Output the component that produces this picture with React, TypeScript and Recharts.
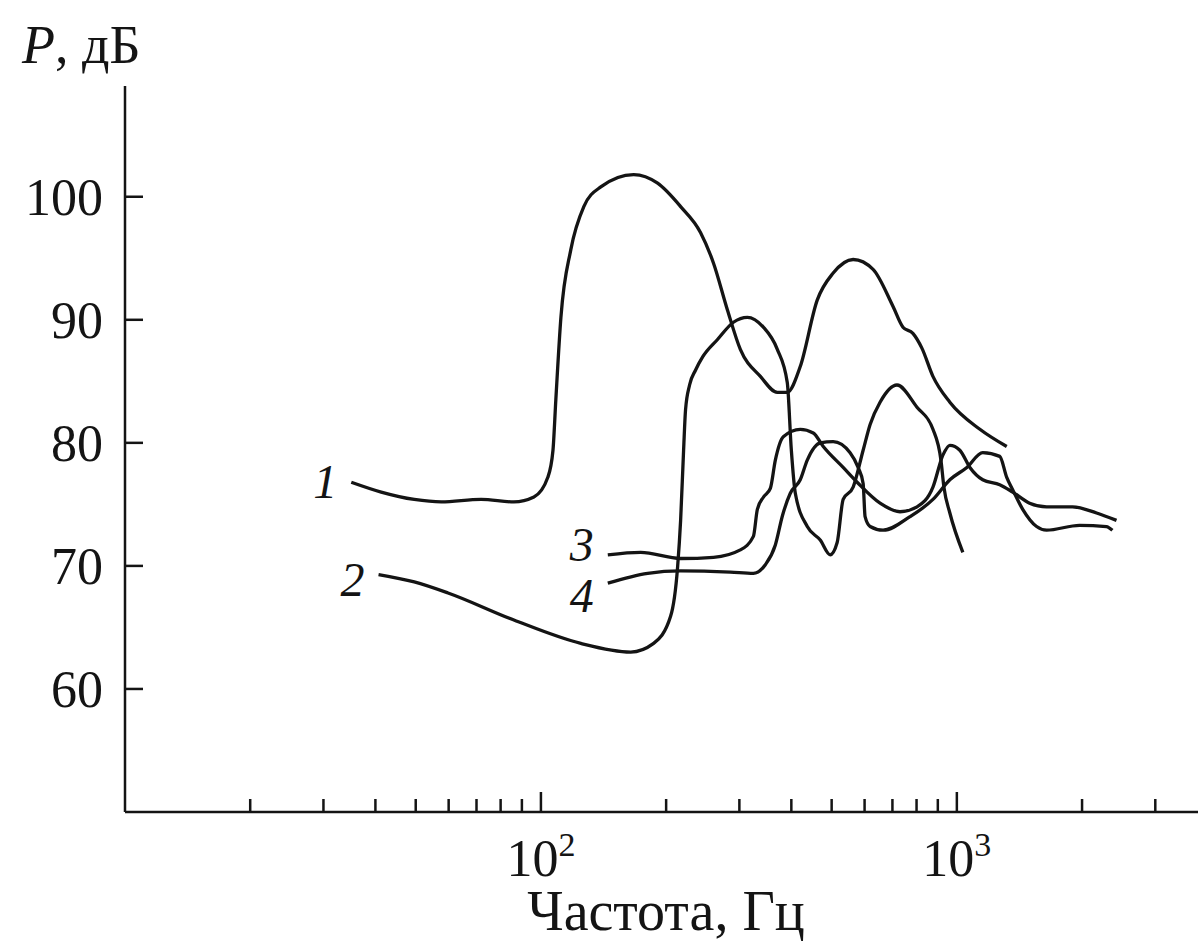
import { LineChart, Line, XAxis, YAxis } from "recharts";

const FONT = "'Liberation Serif', 'DejaVu Serif', serif";
const INK = "#141414";

// curve 1
const c1Freq = [35, 41.3, 49.6, 57.6, 71.8, 86.1, 96.2, 103.9, 106.9, 108.6, 111.7, 118, 126.8, 139.3, 167.1, 190.8, 216.7, 241.9, 260, 280.8, 301.6, 337, 370.1, 391.1, 420.2, 461.6, 504.3, 563.2, 628.9, 702, 742, 784, 824, 876, 962, 1136, 1318];
const c1Level = [76.8, 76.0, 75.4, 75.2, 75.4, 75.2, 75.6, 77.2, 79.4, 83.5, 90.2, 95.7, 99.2, 100.8, 101.8, 101.1, 99.2, 97.1, 94.6, 90.8, 87.6, 85.4, 84.1, 84.1, 86.2, 91.6, 93.8, 94.9, 94.1, 91.1, 89.4, 88.9, 87.7, 85.4, 83.3, 81.1, 79.7];

// curve 2
const c2Freq = [40.7, 49.6, 59.8, 86.1, 124.7, 164.4, 186.6, 205, 213.1, 216.7, 220.3, 222.7, 227.7, 235.3, 245, 265.8, 290.3, 313.6, 342.6, 370.1, 391.1, 400, 408.9, 436.9, 469.4, 495.9, 515.5, 532.9, 563.2, 595.2, 618.7, 653.7, 717.9, 802, 876, 915.6, 930.9, 962, 1033.7];
const c2Level = [69.3, 68.7, 67.8, 65.6, 63.7, 63.0, 63.7, 65.9, 69.9, 73.7, 79.4, 82.7, 84.7, 85.9, 87.0, 88.4, 89.8, 90.2, 89.4, 87.6, 84.9, 79.4, 75.9, 73.2, 72.1, 70.9, 71.9, 75.4, 76.4, 79.4, 81.5, 83.3, 84.7, 82.9, 81.1, 78.6, 76.4, 74.3, 71.1];

// curve 3
const c3Freq = [144.8, 173.7, 216.7, 260, 301.6, 324.2, 331.4, 343, 356.1, 366.1, 382.6, 420.2, 451.6, 477.3, 532.9, 575.8, 653.7, 730, 802, 876, 925.6, 962, 1016.7, 1075, 1154, 1268, 1362, 1496, 1644, 1897, 2167, 2420];
const c3Level = [70.9, 71.1, 70.6, 70.7, 71.3, 72.4, 74.6, 75.6, 76.3, 78.6, 80.5, 81.1, 80.8, 79.7, 78.0, 76.8, 75.1, 74.4, 74.8, 76.4, 79.0, 79.8, 79.4, 78.0, 77.0, 76.6, 76.0, 75.1, 74.8, 74.8, 74.3, 73.7];

// curve 4
const c4Freq = [144.8, 180.6, 216.7, 285.5, 324.2, 346.4, 366.1, 380.9, 397.7, 420.2, 436.9, 469.4, 504.3, 553.8, 578.9, 595.2, 601.7, 618.7, 664.6, 771.6, 876, 962, 1057, 1154, 1268, 1318, 1362, 1440, 1555, 1644, 1972, 2289, 2366];
const c4Level = [68.6, 69.4, 69.6, 69.5, 69.4, 70.1, 71.7, 74.1, 75.9, 77.0, 78.6, 80.0, 80.1, 79.2, 78.0, 76.7, 74.0, 73.2, 72.9, 74.0, 75.4, 77.0, 78.0, 79.2, 78.9, 77.2, 76.2, 74.6, 73.2, 72.9, 73.3, 73.2, 72.9];

const xTicks = [20, 30, 40, 50, 60, 70, 80, 90, 100, 200, 300, 400, 500, 600, 700, 800, 900, 1000, 2000, 3000];
const xMajor: Record<number, string> = { 100: "2", 1000: "3" };
const yTicks = [60, 70, 80, 90, 100];

const zip = (f: number[], p: number[]) => f.map((v, i) => ({ f: v, p: p[i] }));

const curves = [
  { id: "1", data: zip(c1Freq, c1Level), dy: 16 },
  { id: "2", data: zip(c2Freq, c2Level), dy: 21 },
  { id: "3", data: zip(c3Freq, c3Level), dy: 6 },
  { id: "4", data: zip(c4Freq, c4Level), dy: 29 },
];

const XTick = ({ x, y, payload }: any) => {
  const sup = xMajor[payload.value];
  return (
    <g>
      <line x1={x} y1={y} x2={x} y2={y - (sup ? 20 : 13)} stroke={INK} strokeWidth={2.5} />
      {sup && (
        <text x={x} y={y + 64} textAnchor="middle" fontFamily={FONT} fontSize={52} fill={INK}>
          10
          <tspan dy={-20} fontSize={34}>{sup}</tspan>
        </text>
      )}
    </g>
  );
};

const YTick = ({ x, y, payload }: any) => (
  <g>
    <line x1={x} y1={y} x2={x + 18} y2={y} stroke={INK} strokeWidth={2.5} />
    <text x={x - 22} y={y + 18} textAnchor="end" fontFamily={FONT} fontSize={52} fill={INK}>
      {payload.value}
    </text>
  </g>
);

const startLabel = (id: string, dy: number) => (props: any) => {
  if (props.index !== 0) return <g key={`d-${id}-${props.index}`} />;
  return (
    <text
      key={`l-${id}`}
      x={props.cx - 14}
      y={props.cy + dy}
      textAnchor="end"
      fontFamily={FONT}
      fontStyle="italic"
      fontSize={48}
      fill={INK}
    >
      {id}
    </text>
  );
};

export default function App() {
  return (
    <div style={{ position: "absolute", left: 0, top: 0, width: 1198, height: 947, background: "#fff" }}>
      <LineChart width={1198} height={947} margin={{ top: 86, right: 0, bottom: 0, left: 0 }}>
        <XAxis
          type="number"
          dataKey="f"
          scale="log"
          domain={[10, 3800]}
          allowDataOverflow
          ticks={xTicks}
          interval={0}
          height={135}
          tickSize={0}
          tickMargin={0}
          tickLine={false}
          axisLine={{ stroke: INK, strokeWidth: 2.5 }}
          tick={<XTick />}
        />
        <YAxis
          type="number"
          dataKey="p"
          domain={[50, 109]}
          allowDataOverflow
          ticks={yTicks}
          interval={0}
          width={125}
          tickSize={0}
          tickMargin={0}
          tickLine={false}
          axisLine={{ stroke: INK, strokeWidth: 2.5 }}
          tick={<YTick />}
        />
        {curves.map((c) => (
          <Line
            key={c.id}
            data={c.data}
            dataKey="p"
            type="monotone"
            stroke={INK}
            strokeWidth={3.3}
            dot={startLabel(c.id, c.dy)}
            activeDot={false}
            isAnimationActive={false}
          />
        ))}
        <text x={22} y={63} fontFamily={FONT} fontSize={54} fill={INK}>
          <tspan fontStyle="italic">P</tspan>, дБ
        </text>
        <text x={666} y={930} textAnchor="middle" fontFamily={FONT} fontSize={56} fill={INK}>
          Частота, Гц
        </text>
      </LineChart>
    </div>
  );
}
